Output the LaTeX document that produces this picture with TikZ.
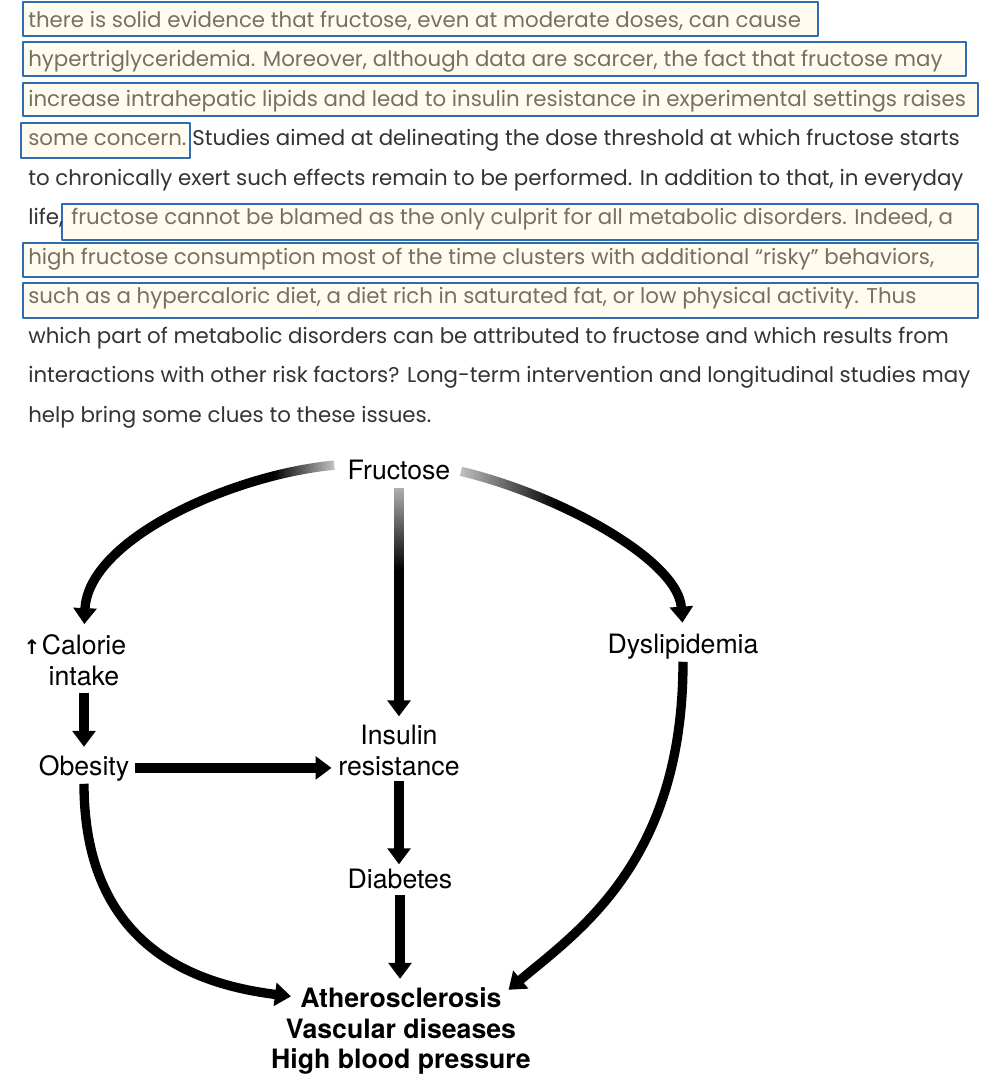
\documentclass[tikz,border=0pt]{standalone}
\usepackage{fontspec}
\setmainfont{TeX Gyre Heros}
\newfontfamily\parafont{Poppins}
\newfontfamily\arrowfont{DejaVu Sans}
\usetikzlibrary{arrows.meta,fadings,calc}
\definecolor{BoxBlue}{HTML}{2E6DB2}
\definecolor{BoxFill}{HTML}{FFFBEF}
\definecolor{MarkText}{HTML}{77705F}
\definecolor{BodyText}{HTML}{333333}
\pgfdeclarelayer{paper}
\pgfdeclarelayer{links}
\pgfsetlayers{paper,links,main}
\tikzset{
  hlbox/.style={draw=BoxBlue,fill=BoxFill,line width=1.5pt},
  para/.style={anchor=base west,inner sep=0pt,text=BodyText,
    font=\parafont\fontsize{16}{18}\selectfont},
  parahl/.style={para,text=MarkText},
  lbl/.style={inner sep=2pt,align=center,font=\fontsize{20}{22.8}\selectfont},
  outcome/.style={lbl,font=\bfseries\fontsize{20}{22.8}\selectfont},
  bigarrow/.style={line width=7pt,-{Triangle[length=12pt,width=17pt]}},
}

\begin{document}
\begin{tikzpicture}[x=0.75pt,y=-0.75pt,line join=round]
  \begin{pgfonlayer}{paper}
    \fill[white] (0,0) rectangle (996,1092);
  \end{pgfonlayer}
  \useasboundingbox (0,0) rectangle (996,1092);
  % highlighted lines
  \draw[hlbox] (23,2) rectangle (818,36);
  \draw[hlbox] (23,42) rectangle (966,76);
  \draw[hlbox] (23,83) rectangle (978,116);
  \draw[hlbox] (21,123) rectangle (190,158);
  \draw[hlbox] (62,204) rectangle (978,240);
  \draw[hlbox] (23,243) rectangle (978,277);
  \draw[hlbox] (23,283) rectangle (978,318);
  \node[parahl] (l1) at (28,27) {there is solid evidence that fructose, even at moderate doses, can cause};
  \node[parahl] (l2) at (28,66.5) {hypertriglyceridemia. Moreover, although data are scarcer, the fact that fructose may};
  \node[parahl] (l3) at (28,106) {increase intrahepatic lipids and lead to insulin resistance in experimental settings raises};
  \node[parahl] (l4a) at (28,145.5) {some concern.};
  \node[para] (l4b) at (192,145.5) {Studies aimed at delineating the dose threshold at which fructose starts};
  \node[para] (l5) at (28,185) {to chronically exert such effects remain to be performed. In addition to that, in everyday};
  \node[para] (l6a) at (28,224.5) {life,};
  \node[parahl] (l6b) at (71,224.5) {fructose cannot be blamed as the only culprit for all metabolic disorders. Indeed, a};
  \node[parahl] (l7) at (28,264) {high fructose consumption most of the time clusters with additional “risky” behaviors,};
  \node[parahl] (l8) at (28,303.5) {such as a hypercaloric diet, a diet rich in saturated fat, or low physical activity. Thus};
  \node[para] (l9) at (28,343) {which part of metabolic disorders can be attributed to fructose and which results from};
  \node[para] (l10) at (28,382.5) {interactions with other risk factors? Long-term intervention and longitudinal studies may};
  \node[para] (l11) at (28,422) {help bring some clues to these issues.};

  % diagram
  \node[lbl,anchor=base] (fru) at (399,479) {Fructose};
  \node[lbl] (cal) at (84,660.4) {\llap{\arrowfont\bfseries\fontsize{15}{15}\selectfont ↑\kern1pt}Calorie\\intake};
  \node[lbl,anchor=base] (obe) at (84,775) {Obesity};
  \node[lbl] (ins) at (399,750.4) {Insulin\\resistance};
  \node[lbl,anchor=base] (dia) at (400,888) {Diabetes};
  \node[lbl,anchor=base] (dys) at (683,653) {Dyslipidemia};
  \node[outcome,anchor=base] (ath) at (401,1007) {Atherosclerosis};
  \node[outcome] (vas) at (401,1046.2) {Vascular diseases\\High blood pressure};

  \begin{pgfonlayer}{links}
    \draw[bigarrow,shorten <=4pt,shorten >=4.5pt] (fru.south) -- (fru.south |- ins.north);
    \draw[bigarrow,shorten <=3pt,shorten >=4pt] (cal.south) -- (obe.north);
    \draw[bigarrow,shorten <=2pt,shorten >=3pt] (obe.east) -- (obe.east -| ins.west);
    \draw[bigarrow,shorten <=2pt,shorten >=1pt] (ins.south) -- (ins.south |- dia.north);
    \draw[bigarrow,shorten <=3pt,shorten >=4pt] (dia.south) -- (dia.south |- ath.north);
    \draw[bigarrow,shorten <=8pt,shorten >=6pt] ([yshift=4pt]fru.west) .. controls (230,475) and (88,540) .. (cal.north);
    \draw[bigarrow,shorten <=6pt,shorten >=6pt] (fru.east) .. controls (560,495) and (678,560) .. (dys.north);
    \draw[bigarrow,shorten >=5pt] (obe.south) .. controls (84,950) and (200,985) .. (ath.west);
    \draw[bigarrow,shorten >=4pt] (dys.south) .. controls (683,860) and (580,930) .. ([yshift=3pt]ath.east);
    % soft starts near Fructose
    \fill[white,path fading=west] (273,448) rectangle (353,492);
    \fill[white,path fading=south] (385,450) rectangle (413,570);
    \fill[white,path fading=east] (428,452) rectangle (558,512);
  \end{pgfonlayer}
\end{tikzpicture}
\end{document}
